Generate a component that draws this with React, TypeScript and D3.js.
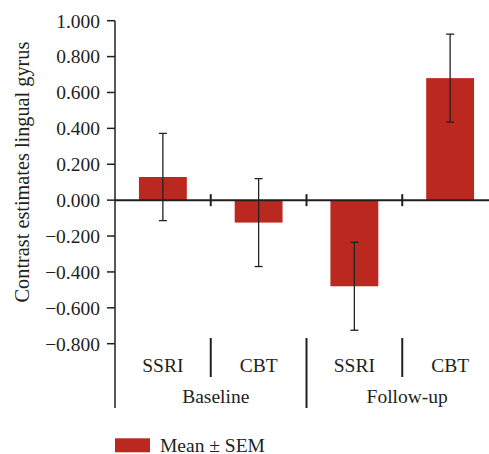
import React from "react";
import * as d3 from "d3";

const categories = ["SSRI", "CBT", "SSRI", "CBT"];
const groups = ["Baseline", "Follow-up"];
const means = [0.129, -0.125, -0.48, 0.68];
const sems = [0.243, 0.245, 0.245, 0.245];
const yTicks = [-0.8, -0.6, -0.4, -0.2, 0, 0.2, 0.4, 0.6, 0.8, 1.0];
const legendLabel = "Mean ± SEM";
const yLabel = "Contrast estimates lingual gyrus";

const W = 489;
const H = 454;
const FONT = "'Liberation Serif', 'Times New Roman', serif";
const INK = "#231f20";
const RED = "#bb281f";

export default function App() {
  const idx = categories.map((_, i) => String(i));
  const x = d3
    .scaleBand<string>()
    .domain(idx)
    .range([115, 498])
    .paddingInner(0.5)
    .paddingOuter(0.25);
  const step = x.step();
  const left = 115;
  const y = d3.scaleLinear().domain([-0.8, 1.0]).range([343.7, 20.7]);
  const fmt = d3.format(".3f");
  const y0 = y(0);
  const fs = 19.5;

  return (
    <svg
      width={W}
      height={H}
      style={{ position: "absolute", left: 0, top: 0, background: "#fff" }}
      fontFamily={FONT}
    >
      {/* bars */}
      {means.map((m, i) => (
        <rect
          key={"b" + i}
          x={x(String(i))}
          width={x.bandwidth()}
          y={Math.min(y(m), y0)}
          height={Math.abs(y(m) - y0)}
          fill={RED}
        />
      ))}
      {/* x axis zero line */}
      <line x1={left} x2={W} y1={y0} y2={y0} stroke={INK} strokeWidth={2} />
      {[1, 2, 3].map((k) => (
        <line
          key={"zt" + k}
          x1={left + step * k}
          x2={left + step * k}
          y1={y0 - 6}
          y2={y0 + 6}
          stroke={INK}
          strokeWidth={2}
        />
      ))}
      {/* error bars */}
      {means.map((m, i) => {
        const cx = (x(String(i)) as number) + x.bandwidth() / 2;
        const t = y(m + sems[i]);
        const b = y(m - sems[i]);
        return (
          <g key={"e" + i} stroke="#222" strokeWidth={1.3}>
            <line x1={cx} x2={cx} y1={t} y2={b} />
            <line x1={cx - 4} x2={cx + 4} y1={t} y2={t} />
            <line x1={cx - 4} x2={cx + 4} y1={b} y2={b} />
          </g>
        );
      })}
      {/* y axis */}
      <line x1={left} x2={left} y1={y(1.0)} y2={408} stroke={INK} strokeWidth={1.5} />
      {yTicks.map((t) => (
        <g key={"yt" + t}>
          <line x1={left - 8} x2={left} y1={y(t)} y2={y(t)} stroke={INK} strokeWidth={1.5} />
          <text
            x={100}
            y={y(t)}
            dy="0.35em"
            textAnchor="end"
            fontSize={fs}
            fill={INK}
          >
            {fmt(t)}
          </text>
        </g>
      ))}
      <text
        transform={`translate(29,172) rotate(-90)`}
        textAnchor="middle"
        fontSize={20.3}
        fill={INK}
      >
        {yLabel}
      </text>
      {/* category labels */}
      {categories.map((c, i) => (
        <text
          key={"c" + i}
          x={(x(String(i)) as number) + x.bandwidth() / 2}
          y={371.7}
          textAnchor="middle"
          fontSize={fs}
          fill={INK}
        >
          {c}
        </text>
      ))}
      {[1, 3].map((k) => (
        <line
          key={"cs" + k}
          x1={left + step * k}
          x2={left + step * k}
          y1={338}
          y2={377}
          stroke={INK}
          strokeWidth={2}
        />
      ))}
      <line
        x1={left + step * 2}
        x2={left + step * 2}
        y1={338}
        y2={408}
        stroke={INK}
        strokeWidth={2}
      />
      {groups.map((g, gi) => (
        <text
          key={"g" + gi}
          x={left + step * (2 * gi + 1) + 5}
          y={402.7}
          textAnchor="middle"
          fontSize={fs}
          fill={INK}
        >
          {g}
        </text>
      ))}
      {/* legend */}
      <rect x={115} y={438.3} width={35} height={14} fill={RED} />
      <text x={160} y={451.5} fontSize={fs} fill={INK}>
        {legendLabel}
      </text>
    </svg>
  );
}
